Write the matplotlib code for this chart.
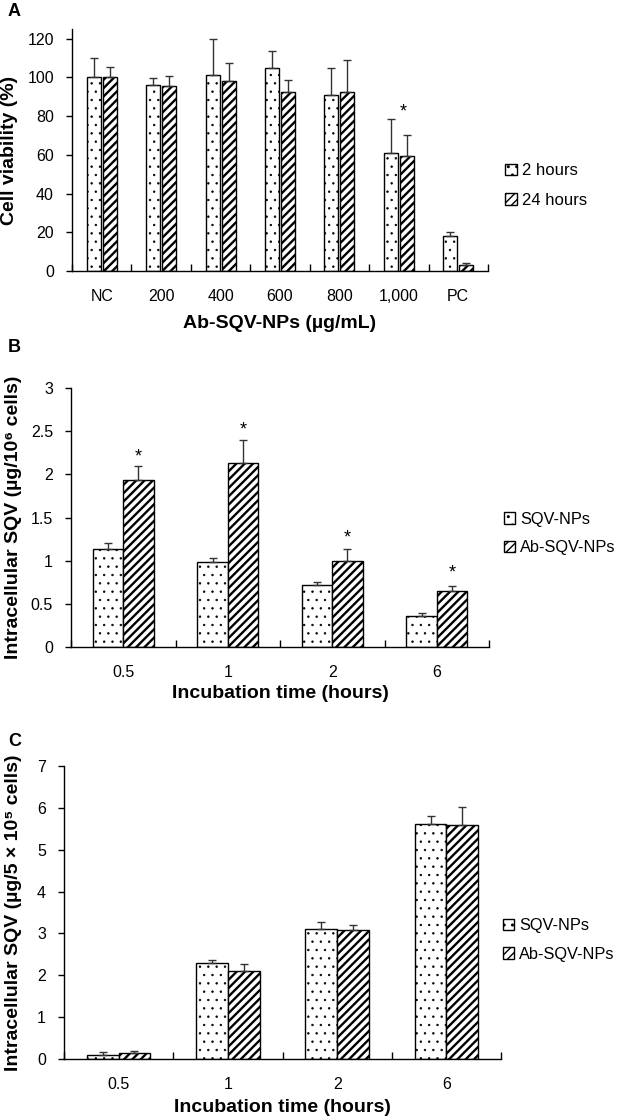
import matplotlib
matplotlib.use("Agg")
import matplotlib.pyplot as plt
import numpy as np

plt.rcParams['font.family'] = ['Liberation Sans', 'DejaVu Sans']

# panel A: cell viability
doses = ["NC", "200", "400", "600", "800", "1,000", "PC"]
via_2h = [100, 96, 101, 104.7, 90.7, 60.7, 18.2]
via_2h_err = [10, 3.5, 19, 9, 14.2, 18, 1.8]
via_24h = [100, 95.3, 97.9, 92.4, 92.4, 59.5, 2.9]
via_24h_err = [5.6, 5.5, 9.4, 6.5, 16.8, 10.6, 1.4]

# panel B: uptake per 10^6 cells
times = ["0.5", "1", "2", "6"]
b_sqv = [1.14, 0.98, 0.715, 0.355]
b_sqv_err = [0.06, 0.05, 0.035, 0.04]
b_ab = [1.93, 2.13, 1.00, 0.645]
b_ab_err = [0.17, 0.27, 0.14, 0.06]
b_star = [2.26, 2.57, 1.32, 0.92]

# panel C: uptake per 5x10^5 cells
c_sqv = [0.10, 2.30, 3.11, 5.61]
c_sqv_err = [0.07, 0.06, 0.17, 0.19]
c_ab = [0.14, 2.11, 3.08, 5.60]
c_ab_err = [0.06, 0.16, 0.12, 0.43]

W, H = 618, 1119


def axRect(left, right, top, bottom):
	return [left / W, 1 - bottom / H, (right - left) / W, (bottom - top) / H]


def setHatchLw(bars, lw):
	for p in bars.patches:
		if hasattr(p, 'set_hatch_linewidth'):
			p.set_hatch_linewidth(lw)


def drawPanel(ax, cats, s1, e1, s2, e2, width, off, ymax, yticks):
	x = np.arange(len(cats)) + 0.5
	ekw = dict(ecolor='#333333', elinewidth=1, capsize=3, capthick=1)
	with plt.rc_context({'hatch.linewidth': 0.5}):
		b1 = ax.bar(x - off, s1, width, color='white', edgecolor='black', linewidth=1,
			hatch='..', yerr=[np.zeros(len(s1)), e1], error_kw=ekw)
	setHatchLw(b1, 0.5)
	with plt.rc_context({'hatch.linewidth': 1.7}):
		b2 = ax.bar(x + off, s2, width, color='white', edgecolor='black', linewidth=1,
			hatch='////', yerr=[np.zeros(len(s2)), e2], error_kw=ekw)
	setHatchLw(b2, 1.7)
	ax.set_xlim(0, len(cats))
	ax.set_ylim(0, ymax)
	ax.set_yticks(yticks)
	ax.set_xticks(x)
	ax.set_xticklabels(cats)
	ax.set_xticks(np.arange(len(cats) + 1), minor=True)
	ax.tick_params(axis='x', which='major', length=0, pad=13, labelsize=11.5)
	ax.tick_params(axis='x', which='minor', direction='in', length=5, width=1)
	ax.tick_params(axis='y', direction='out', length=4, width=1, pad=9, labelsize=11.5)
	for s in ['top', 'right']:
		ax.spines[s].set_visible(False)
	for s in ['left', 'bottom']:
		ax.spines[s].set_linewidth(1)
	return b1, b2


def labels(ax, ylab, xlab, ylx, xly):
	ax.set_ylabel(ylab, fontsize=14, fontweight='bold')
	ax.yaxis.set_label_coords(ylx, 0.5)
	ax.yaxis.label.set_va('center')
	ax.set_xlabel(xlab, fontsize=14, fontweight='bold')
	ax.xaxis.set_label_coords(0.5, xly)
	ax.xaxis.label.set_va('center')


def legend(h1, h2, names, x, y, size):
	fig.legend([h1, h2], names, loc='center left', bbox_to_anchor=(x / W, 1 - y / H),
		frameon=False, fontsize=size, handlelength=0.7, handleheight=0.7, handletextpad=0.3,
		labelspacing=0.85, borderpad=0, borderaxespad=0)


fig = plt.figure(figsize=(6.18, 11.19), dpi=100)

# A
axA = fig.add_axes(axRect(72, 488, 29, 271))
h1, h2 = drawPanel(axA, doses, via_2h, via_2h_err, via_24h, via_24h_err, 0.236, 0.135, 125, range(0, 121, 20))
labels(axA, "Cell viability (%)", "Ab-SQV-NPs (µg/mL)", (10 - 72) / 416, (271 - 323) / 242)
axA.annotate("*", (5.57, 85), xytext=(0, -7), textcoords='offset points', ha='center', va='baseline', fontsize=13)
legend(h1, h2, ["2 hours", "24 hours"], 505, 185.5, 12)

# B
axB = fig.add_axes(axRect(71, 489, 388, 647))
h1, h2 = drawPanel(axB, times, b_sqv, b_sqv_err, b_ab, b_ab_err, 0.29, 0.145, 3, [0, 0.5, 1, 1.5, 2, 2.5, 3])
axB.set_yticklabels(["0", "0.5", "1", "1.5", "2", "2.5", "3"])
labels(axB, "Intracellular SQV (µg/10\u2076 cells)", "Incubation time (hours)", (14 - 71) / 418, (647 - 693) / 259)
for i, yv in enumerate(b_star):
	axB.annotate("*", (i + 0.5 + 0.145, yv), xytext=(0, -7), textcoords='offset points', ha='center', va='baseline', fontsize=13)
legend(h1, h2, ["SQV-NPs", "Ab-SQV-NPs"], 504, 533.5, 11.8)

# C
axC = fig.add_axes(axRect(64, 501, 766, 1059))
h1, h2 = drawPanel(axC, times, c_sqv, c_sqv_err, c_ab, c_ab_err, 0.29, 0.145, 7, range(0, 8))
labels(axC, "Intracellular SQV (µg/5 \u00d7 10\u2075 cells)", "Incubation time (hours)", (14 - 64) / 437, (1059 - 1107) / 293)
legend(h1, h2, ["SQV-NPs", "Ab-SQV-NPs"], 503, 940, 11.8)

for lab, yy in [("A", 12), ("B", 347), ("C", 741)]:
	fig.text(8 / W, 1 - yy / H, lab, fontsize=13, fontweight='bold', ha='left', va='center')

fig.savefig("out.png", dpi=100)
